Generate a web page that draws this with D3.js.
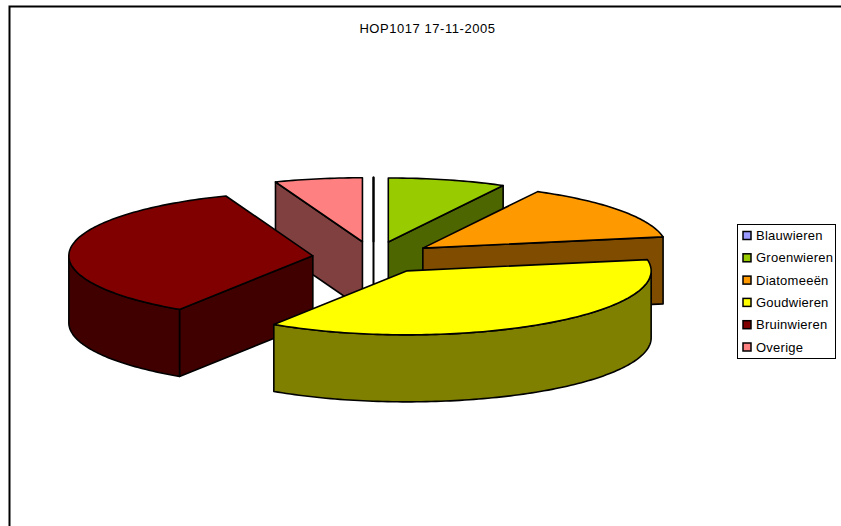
<!DOCTYPE html>
<html>
<head>
<meta charset="utf-8">
<script src="https://cdn.jsdelivr.net/npm/d3@7"></script>
<style>
html, body { margin: 0; padding: 0; background: #fff; overflow: hidden; }
text { font-family: "Liberation Sans", Arial, sans-serif; fill: #000; }
</style>
</head>
<body>
<script>
var categories = ["Blauwieren", "Groenwieren", "Diatomeeën", "Goudwieren", "Bruinwieren", "Overige"];
var values = [0, 7.8, 14.4, 37, 35, 5.8];
var topColors = ["#9999ff", "#99cc00", "#ff9900", "#ffff00", "#800000", "#ff8080"];
var wallColors = ["#4d4d80", "#4d6600", "#804d00", "#808000", "#400000", "#804040"];
var chartTitle = "HOP1017 17-11-2005";

var width = 841, height = 526;
var cx = 373.5, cy = 257.5;
var rx = 244, ry = 64, depth = 67;
var explode = 0.25;

var svg = d3.select("body").append("svg")
    .attr("width", width)
    .attr("height", height);

// frame runs off the right and bottom of the picture
svg.append("rect")
    .attr("x", 9.5).attr("y", 6.5)
    .attr("width", width + 20).attr("height", height + 20)
    .attr("fill", "#fff")
    .attr("stroke", "#000")
    .attr("stroke-width", 2);

svg.append("text")
    .attr("x", 427.5).attr("y", 33)
    .attr("text-anchor", "middle")
    .style("font-size", "13px")
    .style("letter-spacing", "0.55px")
    .text(chartTitle);

var scaleX = d3.scaleLinear().domain([-1, 1]).range([-rx, rx]);
var scaleY = d3.scaleLinear().domain([-1, 1]).range([-ry, ry]);

var pie = d3.pie().sort(null).value(function(d) { return d; });
var arcs = pie(values).map(function(a, i) {
    var mid = (a.startAngle + a.endAngle) / 2;
    a.i = i;
    a.mid = mid;
    a.ax = cx + scaleX(explode * Math.sin(mid));
    a.ay = cy + scaleY(-explode * Math.cos(mid));
    return a;
});

function rim(a, t) {
    return [a.ax + scaleX(Math.sin(t)), a.ay + scaleY(-Math.cos(t))];
}

function down(p) {
    return [p[0], p[1] + depth];
}

function samples(t0, t1) {
    var n = Math.max(1, Math.ceil((t1 - t0) / 0.02));
    return d3.range(n + 1).map(function(k) { return t0 + (t1 - t0) * k / n; });
}

var line = d3.line();

// paint from the back of the pie to the front
var order = arcs.slice().sort(function(a, b) { return Math.cos(b.mid) - Math.cos(a.mid); });

order.forEach(function(a) {
    var g = svg.append("g")
        .attr("stroke", "#000")
        .attr("stroke-width", a.endAngle === a.startAngle ? 2 : 1.6)
        .attr("stroke-linejoin", "round");
    var apex = [a.ax, a.ay];
    var s = rim(a, a.startAngle), e = rim(a, a.endAngle);
    var faces = [];

    if (Math.sin(a.startAngle) < -1e-9) faces.push([apex, s, down(s), down(apex)]);
    if (Math.sin(a.endAngle) > 1e-9 || a.endAngle === a.startAngle) faces.push([apex, e, down(e), down(apex)]);

    // outer wall, only the part that turns towards the viewer
    var t0 = Math.max(a.startAngle, Math.PI / 2), t1 = Math.min(a.endAngle, Math.PI * 1.5);
    if (t1 > t0) {
        var upper = samples(t0, t1).map(function(t) { return rim(a, t); });
        faces.push(upper.concat(upper.map(down).reverse()));
    }

    g.selectAll("path.wall").data(faces).enter().append("path")
        .attr("class", "wall")
        .attr("d", function(d) { return line(d) + "Z"; })
        .attr("fill", wallColors[a.i]);

    var top = [apex].concat(samples(a.startAngle, a.endAngle).map(function(t) { return rim(a, t); }));
    g.append("path")
        .attr("d", line(top) + "Z")
        .attr("fill", topColors[a.i]);
});

// legend
var legendRows = d3.scalePoint().domain(categories).range([235.5, 347]);

svg.append("rect")
    .attr("x", 737.5).attr("y", 224.5)
    .attr("width", 98).attr("height", 134)
    .attr("fill", "#fff")
    .attr("stroke", "#000")
    .attr("stroke-width", 1);

var legend = svg.selectAll("g.legend").data(categories).enter().append("g")
    .attr("class", "legend")
    .attr("transform", function(d) { return "translate(0," + legendRows(d) + ")"; });

legend.append("rect")
    .attr("x", 743).attr("y", -4)
    .attr("width", 8).attr("height", 8)
    .attr("fill", function(d, i) { return topColors[i]; })
    .attr("stroke", "#000")
    .attr("stroke-width", 1.5);

legend.append("text")
    .attr("x", 756).attr("y", 4.5)
    .style("font-size", "13px")
    .style("letter-spacing", "0.25px")
    .text(function(d) { return d; });
</script>
</body>
</html>
